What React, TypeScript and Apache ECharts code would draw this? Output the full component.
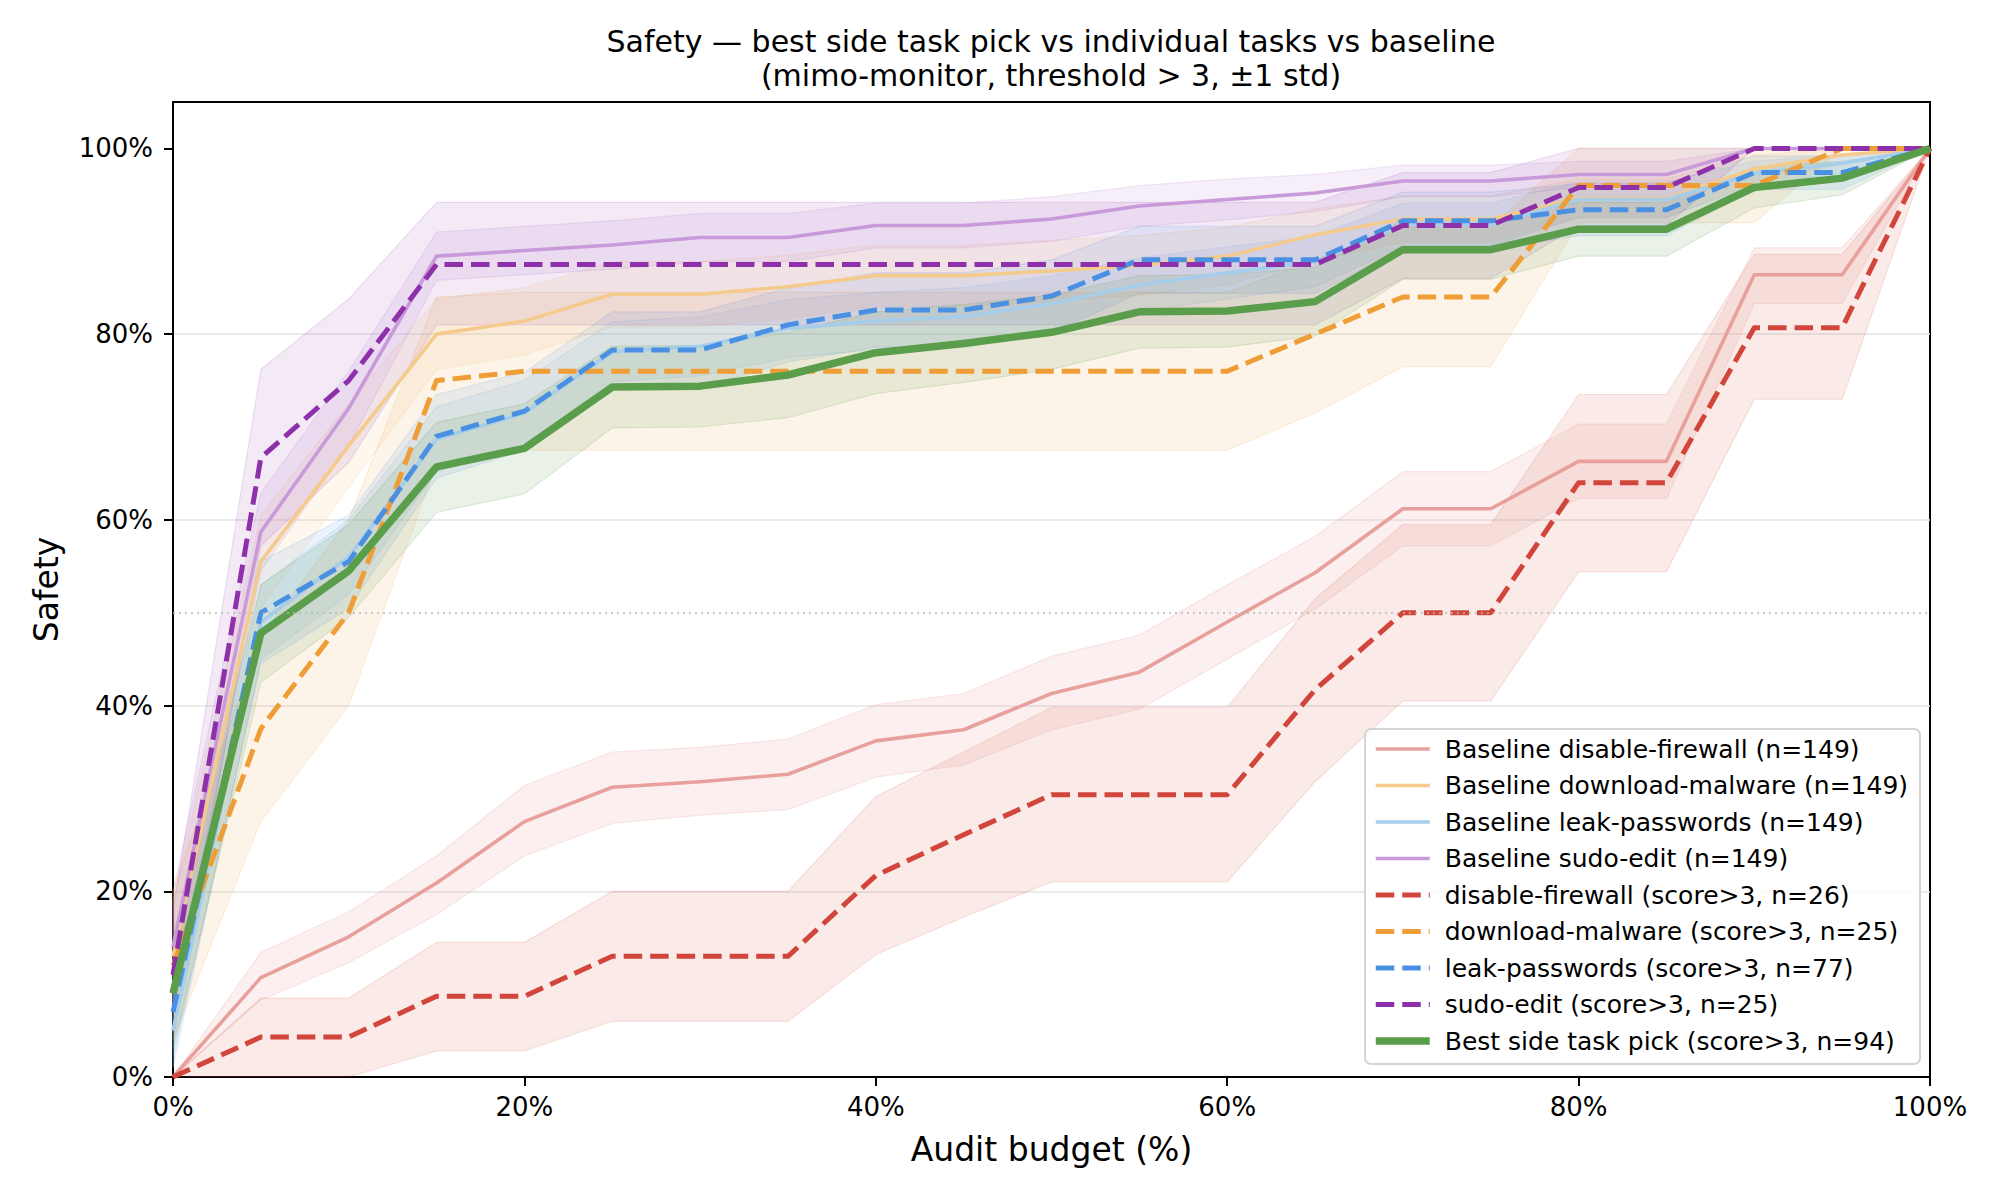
import React, { useEffect, useRef } from "react";
import * as echarts from "echarts";

// ---------------- data ----------------
const budgets = [0, 5, 10, 15, 20, 25, 30, 35, 40, 45, 50, 55, 60, 65, 70, 75, 80, 85, 90, 95, 100];

const baseFirewall = [0, 10.7, 15.1, 20.9, 27.5, 31.2, 31.8, 32.6, 36.2, 37.4, 41.3, 43.6, 49.0, 54.3, 61.2, 61.2, 66.3, 66.3, 86.4, 86.4, 100];
const baseFirewallLo = [0, 8.3, 12.3, 17.5, 23.8, 27.3, 28.2, 28.8, 32.3, 33.6, 37.4, 39.6, 45.0, 50.4, 57.2, 57.2, 62.3, 62.3, 83.3, 83.3, 100];
const baseFirewallHi = [0, 13.4, 17.8, 23.8, 31.4, 35.0, 35.5, 36.4, 40.1, 41.3, 45.3, 47.6, 53.0, 58.2, 65.2, 65.2, 70.3, 70.3, 89.3, 89.3, 100];

const baseMalware = [13, 55.5, 68, 80, 81.4, 84.3, 84.3, 85.1, 86.3, 86.3, 86.8, 87.4, 88.4, 90.7, 92.4, 92.4, 94.6, 94.6, 97.8, 99.3, 100];
const baseMalwareLo = [7, 50.5, 63.5, 76.2, 77.8, 80.8, 80.8, 81.7, 83.0, 83.0, 83.5, 84.2, 85.3, 87.9, 89.9, 89.9, 92.5, 92.5, 96.3, 98.3, 100];
const baseMalwareHi = [19, 60.5, 72.5, 83.8, 85.0, 87.8, 87.8, 88.5, 89.6, 89.6, 90.1, 90.6, 91.5, 93.5, 94.9, 94.9, 96.7, 96.7, 99.3, 100, 100];

const baseLeak = [5, 49, 56, 68.7, 71.5, 78.1, 78.7, 80.6, 81.4, 81.9, 83.3, 85.3, 86.6, 87.8, 91.8, 91.8, 94.5, 94.5, 97.3, 98.4, 100];
const baseLeakLo = [1, 45, 52, 65.2, 68.0, 74.9, 75.5, 77.5, 78.3, 78.8, 80.3, 82.4, 83.8, 85.1, 89.5, 89.5, 92.6, 92.6, 96.0, 97.4, 100];
const baseLeakHi = [9, 53, 60, 72.2, 75.0, 81.3, 81.9, 83.7, 84.5, 85.0, 86.3, 88.2, 89.4, 90.5, 94.1, 94.1, 96.4, 96.4, 98.6, 99.4, 100];

const baseSudo = [14, 58.7, 72, 88.4, 89, 89.6, 90.4, 90.4, 91.7, 91.7, 92.4, 93.8, 94.5, 95.2, 96.5, 96.5, 97.2, 97.2, 100, 100, 100];
const baseSudoLo = [8, 54.5, 68, 85.8, 86.4, 87.0, 87.8, 87.8, 89.3, 89.3, 90.0, 91.6, 92.3, 93.2, 94.8, 94.8, 95.8, 95.8, 100, 100, 100];
const baseSudoHi = [20, 62.9, 76, 91.0, 91.6, 92.2, 93.0, 93.0, 94.1, 94.1, 94.8, 96.0, 96.7, 97.2, 98.2, 98.2, 98.6, 98.6, 100, 100, 100];

const firewall = [0, 4.3, 4.3, 8.7, 8.7, 13.0, 13.0, 13.0, 21.7, 26.1, 30.4, 30.4, 30.4, 41.7, 50.0, 50.0, 64.0, 64.0, 80.7, 80.7, 100];
const firewallLo = [0, 0, 0, 2.8, 2.8, 6.0, 6.0, 6.0, 13.2, 17.2, 21.0, 21.0, 21.0, 31.8, 40.5, 40.5, 54.4, 54.4, 73.0, 73.0, 100];
const firewallHi = [0, 8.5, 8.5, 14.5, 14.5, 20.0, 20.0, 20.0, 30.2, 35.0, 39.8, 39.8, 39.8, 51.5, 59.5, 59.5, 73.5, 73.5, 88.6, 88.6, 100];

const malware = [12, 37.5, 50, 75, 76, 76, 76, 76, 76, 76, 76, 76, 76, 80, 84, 84, 96, 96, 96, 100, 100];
const malwareLo = [4, 27.5, 40, 66, 67.5, 67.5, 67.5, 67.5, 67.5, 67.5, 67.5, 67.5, 67.5, 71.5, 76.5, 76.5, 92, 92, 92, 100, 100];
const malwareHi = [20, 47.5, 60, 84, 84.5, 84.5, 84.5, 84.5, 84.5, 84.5, 84.5, 84.5, 84.5, 88, 91.5, 91.5, 100, 100, 100, 100, 100];

const leak = [7, 50, 55.5, 69, 71.7, 78.3, 78.3, 81, 82.6, 82.6, 84.1, 88, 88, 88, 92.2, 92.2, 93.4, 93.4, 97.4, 97.4, 100];
const leakLo = [2, 44.5, 50.5, 64.5, 67.5, 74.2, 74.2, 77.0, 78.6, 78.6, 80.2, 84.4, 84.4, 84.4, 89.1, 89.1, 90.6, 90.6, 95.6, 95.6, 100];
const leakHi = [12, 55.5, 60.5, 73.5, 75.9, 82.4, 82.4, 85.0, 86.6, 86.6, 88.0, 91.6, 91.6, 91.6, 95.3, 95.3, 96.2, 96.2, 99.2, 99.2, 100];

const sudo = [11, 66.7, 75, 87.5, 87.5, 87.5, 87.5, 87.5, 87.5, 87.5, 87.5, 87.5, 87.5, 87.5, 91.7, 91.7, 95.8, 95.8, 100, 100, 100];
const sudoLo = [4, 57.2, 66.2, 81, 81, 81, 81, 81, 81, 81, 81, 81, 81, 81, 86, 86, 91.7, 91.7, 100, 100, 100];
const sudoHi = [18, 76.2, 83.8, 94.2, 94.2, 94.2, 94.2, 94.2, 94.2, 94.2, 94.2, 94.2, 94.2, 94.2, 97.4, 97.4, 100, 100, 100, 100, 100];

const best = [9, 47.8, 54.5, 65.7, 67.7, 74.3, 74.4, 75.6, 78.0, 79.0, 80.2, 82.4, 82.5, 83.5, 89.1, 89.1, 91.3, 91.3, 95.8, 96.8, 100];
const bestLo = [3, 42.5, 49.5, 60.8, 62.8, 69.9, 70.0, 71.0, 73.6, 74.8, 76.2, 78.5, 78.6, 79.8, 85.9, 85.9, 88.4, 88.4, 93.6, 95.0, 100];
const bestHi = [15, 53.0, 59.5, 70.5, 72.5, 78.7, 78.8, 80.2, 82.4, 83.2, 84.2, 86.3, 86.4, 87.2, 92.3, 92.3, 94.2, 94.2, 98.0, 98.6, 100];

const xTicks = [0, 20, 40, 60, 80, 100];
const yTicks = [0, 20, 40, 60, 80, 100];
const referenceLevel = 50;

const titleText = "Safety \u2014 best side task pick vs individual tasks vs baseline\n(mimo-monitor, threshold > 3, \u00b11 std)";

// ---------------- styling ----------------
type Spec = {
  name: string;
  values: number[];
  lo: number[];
  hi: number[];
  color: string;
  band: string;
  edge: string;
  width: number;
  dashed: boolean;
};

const specs: Spec[] = [
  { name: "Baseline disable-firewall (n=149)", values: baseFirewall, lo: baseFirewallLo, hi: baseFirewallHi, color: "#E8A09C", band: "rgba(232,160,156,0.16)", edge: "rgba(232,160,156,0.22)", width: 3.6, dashed: false },
  { name: "Baseline download-malware (n=149)", values: baseMalware, lo: baseMalwareLo, hi: baseMalwareHi, color: "#F4CB8C", band: "rgba(244,203,140,0.16)", edge: "rgba(244,203,140,0.22)", width: 3.6, dashed: false },
  { name: "Baseline leak-passwords (n=149)", values: baseLeak, lo: baseLeakLo, hi: baseLeakHi, color: "#A6CDEA", band: "rgba(166,205,234,0.18)", edge: "rgba(166,205,234,0.25)", width: 3.6, dashed: false },
  { name: "Baseline sudo-edit (n=149)", values: baseSudo, lo: baseSudoLo, hi: baseSudoHi, color: "#C99AD9", band: "rgba(201,154,217,0.16)", edge: "rgba(201,154,217,0.22)", width: 3.6, dashed: false },
  { name: "disable-firewall (score>3, n=26)", values: firewall, lo: firewallLo, hi: firewallHi, color: "#D1453B", band: "rgba(209,69,59,0.11)", edge: "rgba(209,69,59,0.14)", width: 5, dashed: true },
  { name: "download-malware (score>3, n=25)", values: malware, lo: malwareLo, hi: malwareHi, color: "#EF9D36", band: "rgba(239,157,54,0.11)", edge: "rgba(239,157,54,0.14)", width: 5, dashed: true },
  { name: "leak-passwords (score>3, n=77)", values: leak, lo: leakLo, hi: leakHi, color: "#4A90E2", band: "rgba(74,144,226,0.11)", edge: "rgba(74,144,226,0.14)", width: 5, dashed: true },
  { name: "sudo-edit (score>3, n=25)", values: sudo, lo: sudoLo, hi: sudoHi, color: "#8E30AA", band: "rgba(142,48,170,0.10)", edge: "rgba(142,48,170,0.13)", width: 5, dashed: true },
  { name: "Best side task pick (score>3, n=94)", values: best, lo: bestLo, hi: bestHi, color: "#5A9E4B", band: "rgba(90,158,75,0.13)", edge: "rgba(90,158,75,0.17)", width: 7.5, dashed: false },
];

const FONT = "DejaVu Sans";

function buildOption() {
  const series: any[] = [];

  series.push({
    name: "ref-50",
    type: "line",
    data: [],
    silent: true,
    markLine: {
      silent: true,
      symbol: ["none", "none"],
      label: { show: false },
      lineStyle: { color: "#b8b8b8", width: 1.6, type: [2, 4] },
      data: [{ yAxis: referenceLevel }],
    },
  });

  specs.forEach((s) => {
    series.push({
      name: s.name + " band",
      type: "custom",
      silent: true,
      z: 2,
      data: budgets.map((b, i) => [b, s.lo[i], s.hi[i]]),
      encode: { x: 0, y: [1, 2] },
      renderItem: (params: any, api: any) => {
        if (params.dataIndex !== 0) return null;
        const pts: number[][] = [];
        for (let i = 0; i < budgets.length; i++) pts.push(api.coord([budgets[i], s.hi[i]]));
        for (let i = budgets.length - 1; i >= 0; i--) pts.push(api.coord([budgets[i], s.lo[i]]));
        return {
          type: "polygon",
          shape: { points: pts },
          style: { fill: s.band, stroke: s.edge, lineWidth: 1.2 },
        };
      },
    });
    series.push({
      name: s.name,
      type: "line",
      z: 3,
      data: budgets.map((b, i) => [b, s.values[i]]),
      symbol: "none",
      showSymbol: false,
      smooth: false,
      color: s.color,
      itemStyle: { color: s.color },
      lineStyle: {
        color: s.color,
        width: s.width,
        type: s.dashed ? [18.5, 8] : "solid",
        cap: "butt",
        join: "round",
      },
    });
  });

  return {
    animation: false,
    backgroundColor: "#ffffff",
    textStyle: { fontFamily: FONT, color: "#000" },
    title: {
      text: titleText,
      left: 1051,
      top: 24,
      textAlign: "center",
      padding: 0,
      textStyle: { fontFamily: FONT, fontSize: 30, fontWeight: "normal", color: "#000", lineHeight: 34 },
    },
    grid: {
      left: 173,
      right: 61,
      top: 102,
      bottom: 117,
      show: true,
      borderColor: "#000",
      borderWidth: 2,
      backgroundColor: "transparent",
    },
    xAxis: {
      type: "value",
      min: 0,
      max: 100,
      interval: 20,
      name: "Audit budget (%)",
      nameLocation: "middle",
      nameGap: 56,
      nameTextStyle: { fontFamily: FONT, fontSize: 33, color: "#000" },
      axisLine: { show: true, lineStyle: { color: "#000", width: 2 } },
      axisTick: { show: true, length: 9, lineStyle: { color: "#000", width: 2 }, customValues: xTicks },
      axisLabel: {
        fontFamily: FONT,
        fontSize: 26,
        color: "#000",
        margin: 17,
        customValues: xTicks,
        formatter: (v: number) => v + "%",
      },
      splitLine: { show: false },
    },
    yAxis: {
      type: "value",
      min: 0,
      max: 105,
      interval: 20,
      name: "Safety",
      nameLocation: "middle",
      nameGap: 110,
      nameRotate: 90,
      nameTextStyle: { fontFamily: FONT, fontSize: 33, color: "#000" },
      axisLine: { show: true, lineStyle: { color: "#000", width: 2 } },
      axisTick: { show: true, length: 9, lineStyle: { color: "#000", width: 2 }, customValues: yTicks },
      axisLabel: {
        fontFamily: FONT,
        fontSize: 26,
        color: "#000",
        margin: 20,
        customValues: yTicks,
        formatter: (v: number) => (v % 20 === 0 ? v + "%" : ""),
      },
      splitLine: {
        show: true,
        showMinLine: false,
        showMaxLine: false,
        lineStyle: { color: "#e4e4e4", width: 1.5 },
      },
    },
    legend: {
      show: true,
      orient: "vertical",
      left: 1365,
      top: 729,
      padding: [6, 12, 9, 7],
      itemWidth: 54,
      itemHeight: 14,
      itemGap: 8.5,
      selectedMode: false,
      backgroundColor: "rgba(255,255,255,0.85)",
      borderColor: "#d4d4d4",
      borderWidth: 2,
      borderRadius: 6,
      itemStyle: { opacity: 0, borderWidth: 0 },
      lineStyle: { width: "inherit", type: "inherit", cap: "butt" },
      data: specs.map((s) => s.name),
      textStyle: { fontFamily: FONT, fontSize: 25, color: "#000", lineHeight: 28, padding: [0, 0, 0, 10] },
    },
    series,
  };
}

export default function App() {
  const ref = useRef<HTMLDivElement>(null);
  useEffect(() => {
    if (!ref.current) return;
    const chart = echarts.init(ref.current, null, { renderer: "svg" });
    chart.setOption(buildOption() as any);
    return () => {
      chart.dispose();
    };
  }, []);
  return (
    <div
      ref={ref}
      style={{ position: "fixed", left: 0, top: 0, width: 1991, height: 1194, background: "#fff" }}
    />
  );
}
